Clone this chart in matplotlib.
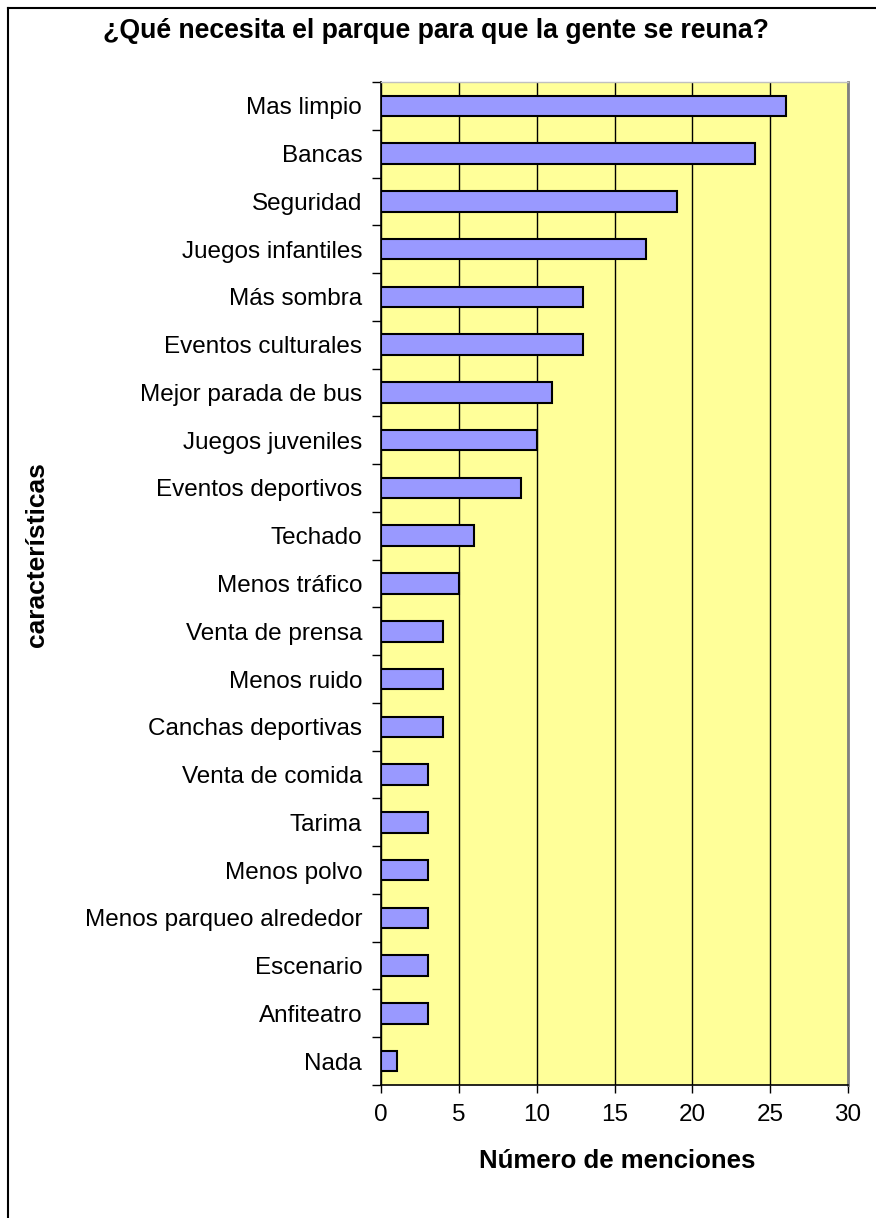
import matplotlib
matplotlib.use("Agg")
import matplotlib.pyplot as plt
from matplotlib.lines import Line2D

plt.rcParams['font.family'] = ['Liberation Sans', 'DejaVu Sans']

categories = ["Mas limpio", "Bancas", "Seguridad", "Juegos infantiles", "Más sombra",
              "Eventos culturales", "Mejor parada de bus", "Juegos juveniles",
              "Eventos deportivos", "Techado", "Menos tráfico", "Venta de prensa",
              "Menos ruido", "Canchas deportivas", "Venta de comida", "Tarima",
              "Menos polvo", "Menos parqueo alrededor", "Escenario", "Anfiteatro", "Nada"]
values = [26, 24, 19, 17, 13, 13, 11, 10, 9, 6, 5, 4, 4, 4, 3, 3, 3, 3, 3, 3, 1]
xticks = [0, 5, 10, 15, 20, 25, 30]

W, H = 876, 1218
fig = plt.figure(figsize=(W / 100, H / 100), dpi=100)
fig.patch.set_facecolor("white")

ax = fig.add_axes([381 / W, 1 - 1085 / H, (848 - 381) / W, (1085 - 82) / H])
ax.set_facecolor("#FFFF99")

n = len(categories)
ypos = list(range(n))
ax.barh(ypos, values, height=0.43, color="#9999FF", edgecolor="black", linewidth=1.5, zorder=3)
ax.set_ylim(n - 0.5, -0.5)
ax.set_xlim(0, 30)
ax.set_yticks(ypos)
ax.set_yticklabels(categories, fontsize=17.5)
ax.set_yticks([i - 0.5 for i in range(n + 1)], minor=True)
ax.tick_params(axis="y", which="major", length=0, pad=13.5)
ax.tick_params(axis="y", which="minor", length=6.5, width=1, color="black", direction="out")
ax.set_xticks(xticks)
ax.set_xticklabels([str(t) for t in xticks], fontsize=17.5)
ax.tick_params(axis="x", which="major", length=6, width=1, direction="out", pad=8)
ax.grid(axis="x", color="black", linewidth=1, zorder=1)
ax.set_axisbelow(True)

ax.spines["left"].set_color("black")
ax.spines["bottom"].set_color("black")
ax.spines["left"].set_linewidth(1.2)
ax.spines["bottom"].set_linewidth(1.2)
ax.spines["right"].set_color("#808080")
ax.spines["right"].set_linewidth(2)
ax.spines["top"].set_color("#C0C0C0")
ax.spines["top"].set_linewidth(1)

fig.text(436 / W, 1 - 31 / H, "¿Qué necesita el parque para que la gente se reuna?",
         ha="center", va="center", fontsize=19.2, fontweight="bold")
fig.text(617 / W, 1 - 1161 / H, "Número de menciones",
         ha="center", va="center", fontsize=18.5, fontweight="bold")
fig.text(37 / W, 1 - 555 / H, "características", rotation=90,
         ha="center", va="center", fontsize=19, fontweight="bold")

# figure frame (left and top edges)
fig.add_artist(Line2D([8 / W, 8 / W], [0, 1 - 8 / H], transform=fig.transFigure, color="black", linewidth=1.5))
fig.add_artist(Line2D([8 / W, 1], [1 - 8 / H, 1 - 8 / H], transform=fig.transFigure, color="black", linewidth=1.5))

fig.savefig("out.png", dpi=100)
